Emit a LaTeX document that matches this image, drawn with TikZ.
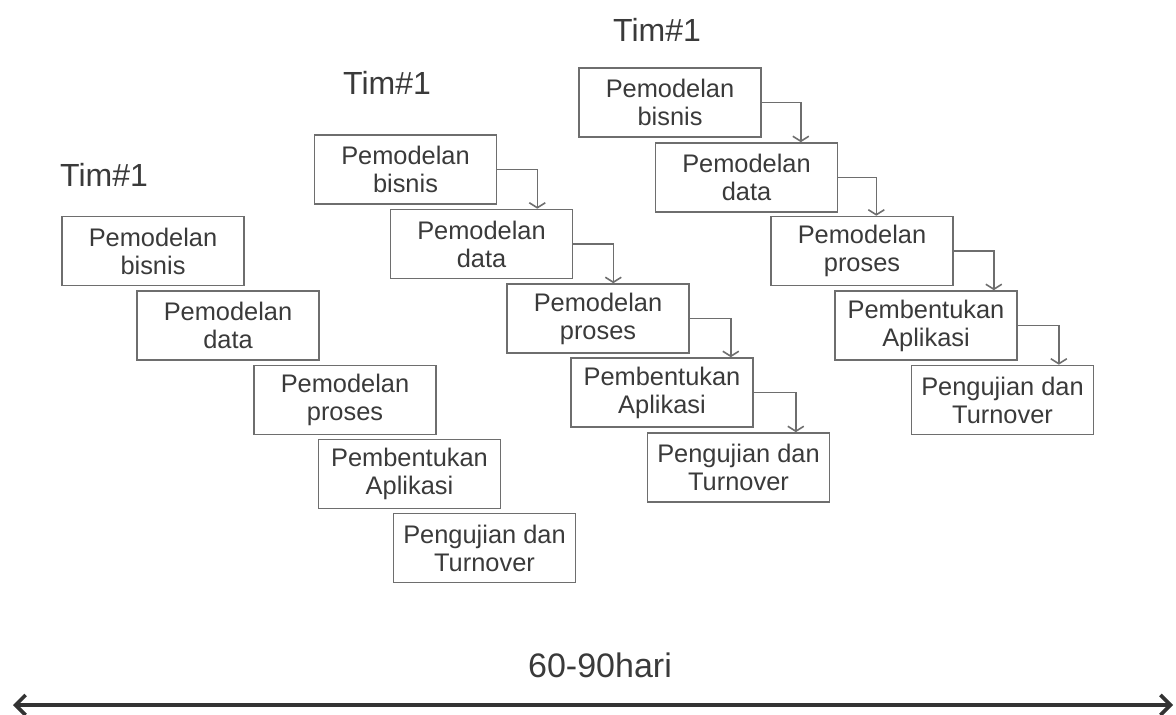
\documentclass[tikz,border=0pt]{standalone}
\usepackage{fontspec}
\setmainfont{Liberation Sans}
\usetikzlibrary{arrows.meta,positioning,calc}
\definecolor{ink}{HTML}{3A3A3A}
\definecolor{frame}{HTML}{6E6E6E}
\definecolor{rule}{HTML}{333333}

\begin{document}
\begin{tikzpicture}[
    x=0.5pt, y=-0.5pt,
    every node/.style={text=ink},
    phase/.style={rectangle, draw=frame, line width=0.8pt,
        minimum width=91pt, minimum height=34.5pt, inner sep=0pt,
        align=center, font=\fontsize{12.7}{14}\selectfont},
    team/.style={anchor=base, font=\fontsize{16}{18}\selectfont},
    link/.style={draw=frame, line width=0.8pt,
        -{Straight Barb[length=2.5pt,width=8pt]}},
]
\useasboundingbox (0,0) rectangle (1176,715);

% Team labels
\node[team] (tl) at (104,187) {Tim\#1};
\node[team] (tm) at (387,95) {Tim\#1};
\node[team] (tr) at (657,42) {Tim\#1};

% Left team (no hand-offs)
\node[phase] (l1) at (153,251) {Pemodelan\\bisnis};
\node[phase] (l2) at (228,325.5) {Pemodelan\\data};
\node[phase] (l3) at (345,400) {Pemodelan\\proses};
\node[phase] (l4) at (409.5,474) {Pembentukan\\Aplikasi};
\node[phase] (l5) at (484.5,548) {Pengujian dan\\Turnover};

% Middle team
\node[phase] (m1) at (405.5,169.5) {Pemodelan\\bisnis};
\node[phase] (m2) at (481.5,244) {Pemodelan\\data};
\node[phase] (m3) at (598,318.5) {Pemodelan\\proses};
\node[phase] (m4) at (662,392.5) {Pembentukan\\Aplikasi};
\node[phase] (m5) at (738.5,467.5) {Pengujian dan\\Turnover};

% Right team
\node[phase] (r1) at (670,102.5) {Pemodelan\\bisnis};
\node[phase] (r2) at (746.5,177.5) {Pemodelan\\data};
\node[phase] (r3) at (862,251) {Pemodelan\\proses};
\node[phase] (r4) at (926,325.5) {Pembentukan\\Aplikasi};
\node[phase] (r5) at (1002.5,400) {Pengujian dan\\Turnover};

% Hand-offs, middle team
\draw[link] (m1.east) -- ++(40,0) coordinate (m12) -- (m12 |- m2.north);
\draw[link] (m2.east) -- ++(40,0) coordinate (m23) -- (m23 |- m3.north);
\draw[link] (m3.east) -- ++(41,0) coordinate (m34) -- (m34 |- m4.north);
\draw[link] (m4.east) -- ++(42,0) coordinate (m45) -- (m45 |- m5.north);

% Hand-offs, right team
\draw[link] (r1.east) -- ++(39,0) coordinate (r12) -- (r12 |- r2.north);
\draw[link] (r2.east) -- ++(38,0) coordinate (r23) -- (r23 |- r3.north);
\draw[link] (r3.east) -- ++(40,0) coordinate (r34) -- (r34 |- r4.north);
\draw[link] (r4.east) -- ++(41,0) coordinate (r45) -- (r45 |- r5.north);

% Time span
\node[anchor=base, font=\fontsize{17}{19}\selectfont] (days) at (600,677) {60-90hari};
\coordinate (start) at (13,705);
\coordinate (end) at (1173,705);
\draw[rule, line width=1.8pt, {Straight Barb[length=5pt,width=10pt]}-{Straight Barb[length=5pt,width=10pt]}]
    (start) -- (end);

\end{tikzpicture}
\end{document}
